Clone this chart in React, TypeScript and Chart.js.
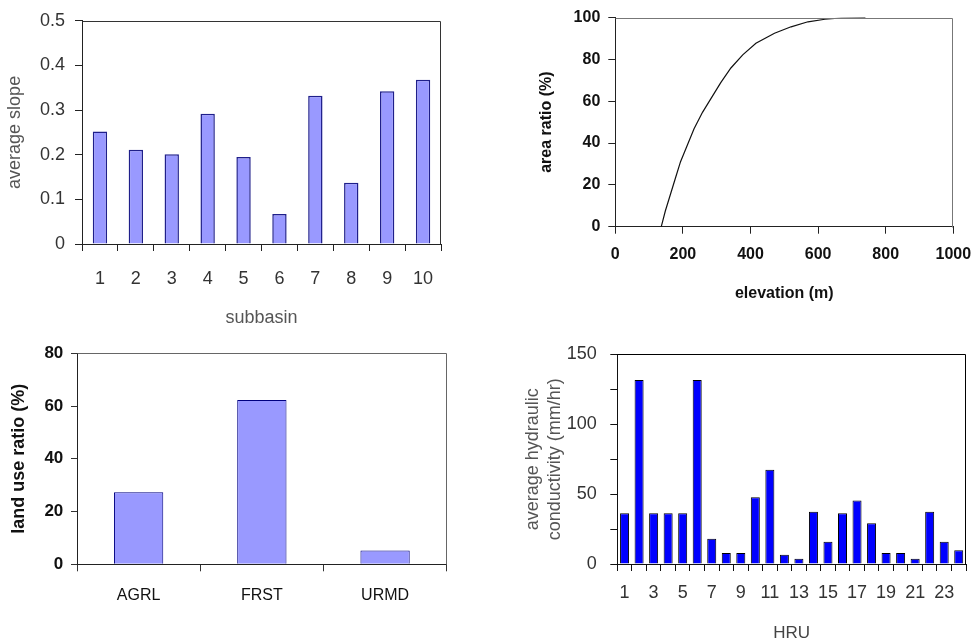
import React, { useEffect, useRef } from "react";
import { Chart, registerables } from "chart.js";

Chart.register(...registerables);

// ---------- DATA ----------
const SUBBASINS = ["1", "2", "3", "4", "5", "6", "7", "8", "9", "10"];
const AVG_SLOPE = [0.252, 0.211, 0.201, 0.292, 0.195, 0.067, 0.332, 0.137, 0.342, 0.368];

const ELEVATION = [136, 148, 163, 178, 193, 213, 233, 258, 282, 312, 342, 377, 416, 471, 520, 570, 620, 669, 740];
const AREA_RATIO = [0, 7.5, 15.4, 23.3, 31.1, 39, 46.8, 54.7, 61, 68.9, 75.9, 82.2, 87.7, 92.5, 95.6, 98, 99.2, 99.8, 100];

const LANDUSE = ["AGRL", "FRST", "URMD"];
const LANDUSE_RATIO = [27.3, 62.3, 5.2];

const HRUS = ["1", "2", "3", "4", "5", "6", "7", "8", "9", "10", "11", "12", "13", "14", "15", "16", "17", "18", "19", "20", "21", "22", "23", "24"];
const HYD_COND = [36.3, 131.7, 36.3, 36.3, 36.3, 131.7, 18, 7.8, 7.8, 47.7, 67.4, 6.6, 3.7, 37.4, 16, 36.3, 45.4, 29.2, 7.8, 7.8, 3.7, 37.4, 16, 9.8];

// ---------- STYLE ----------
const SANS = "'Liberation Sans', Arial, sans-serif";

const framePlugin = {
  id: "frame",
  afterDraw(chart: any, _args: any, opts: any) {
    const { ctx, chartArea } = chart;
    const l = Math.round(chartArea.left) + 0.5;
    const t = Math.round(chartArea.top) + 0.5;
    const r = Math.round(chartArea.right) - 0.5;
    const b = Math.round(chartArea.bottom) + 0.5;
    ctx.save();
    ctx.strokeStyle = opts.color || "#444";
    ctx.lineWidth = opts.width || 1;
    ctx.beginPath();
    ctx.moveTo(l, t);
    ctx.lineTo(r, t);
    ctx.lineTo(r, b);
    ctx.stroke();
    ctx.restore();
  },
};

function axisGrid(tickLength: number, color: string) {
  return { drawOnChartArea: false, drawTicks: true, tickLength, tickColor: color, color };
}

function makeSlope(): any {
  return {
    type: "bar",
    data: {
      labels: SUBBASINS,
      datasets: [{
        data: AVG_SLOPE,
        backgroundColor: "#9999FF",
        borderColor: "#1f1f8a",
        borderWidth: 1.5,
        barPercentage: 0.4,
        categoryPercentage: 1,
      }],
    },
    options: {
      animation: false,
      responsive: false,
      layout: { padding: { top: 16, right: 45, left: 0, bottom: 0 } },
      plugins: { legend: { display: false }, tooltip: { enabled: false }, frame: { color: "#333", width: 1 } },
      scales: {
        x: {
          afterFit: (s: any) => { s.height = 86; },
          grid: axisGrid(7, "#222"),
          border: { display: true, color: "#222", width: 1 },
          ticks: { font: { family: SANS, size: 18 }, color: "#333", padding: 17 },
          title: { display: true, text: "subbasin", font: { family: SANS, size: 18 }, color: "#555", padding: { top: 0, bottom: 1 } },
        },
        y: {
          min: 0, max: 0.5,
          afterFit: (s: any) => { s.width = 82; },
          grid: axisGrid(7, "#222"),
          border: { display: true, color: "#222", width: 1 },
          ticks: {
            stepSize: 0.1, font: { family: SANS, size: 18 }, color: "#333", padding: 10,
            callback: (v: any) => (Number(v) === 0 ? "0" : Number(v).toFixed(1)),
          },
          title: { display: true, text: "average slope", font: { family: SANS, size: 18 }, color: "#555", padding: { top: 4, bottom: 0 } },
        },
      },
    },
    plugins: [framePlugin],
  };
}

function makeElevation(): any {
  const pts = ELEVATION.map((x, i) => ({ x, y: AREA_RATIO[i] }));
  return {
    type: "line",
    data: {
      datasets: [{
        data: pts,
        borderColor: "#111",
        borderWidth: 1.2,
        pointRadius: 0,
        tension: 0,
        fill: false,
      }],
    },
    options: {
      animation: false,
      responsive: false,
      layout: { padding: { top: 14, right: 18.7, left: 0, bottom: 0 } },
      plugins: { legend: { display: false }, tooltip: { enabled: false }, frame: { color: "#777", width: 1 } },
      scales: {
        x: {
          type: "linear", min: 0, max: 1000,
          afterFit: (s: any) => { s.height = 103.3; s.paddingRight = 0; s.paddingLeft = 0; },
          grid: axisGrid(7, "#222"),
          border: { display: true, color: "#222", width: 1 },
          ticks: {
            stepSize: 200, font: { family: SANS, size: 16, weight: "bold" }, color: "#111", padding: 11,
            callback: (v: any) => String(v),
          },
          title: { display: true, text: "elevation (m)", font: { family: SANS, size: 16, weight: "bold" }, color: "#111", padding: { top: 0, bottom: 27 } },
        },
        y: {
          type: "linear", min: 0, max: 100,
          afterFit: (s: any) => { s.width = 129.3; },
          grid: axisGrid(7, "#222"),
          border: { display: true, color: "#222", width: 1 },
          ticks: { stepSize: 20, font: { family: SANS, size: 16, weight: "bold" }, color: "#111", padding: 8 },
          title: { display: true, text: "area ratio (%)", font: { family: SANS, size: 16, weight: "bold" }, color: "#111", padding: { top: 51, bottom: 0 } },
        },
      },
    },
    plugins: [framePlugin],
  };
}

function makeLanduse(): any {
  return {
    type: "bar",
    data: {
      labels: LANDUSE,
      datasets: [{
        data: LANDUSE_RATIO,
        backgroundColor: "#9999FF",
        borderColor: "#000080",
        borderWidth: 1,
        barPercentage: 0.4,
        categoryPercentage: 1,
      }],
    },
    options: {
      animation: false,
      responsive: false,
      layout: { padding: { top: 23.3, right: 39.3, left: 0, bottom: 0 } },
      plugins: { legend: { display: false }, tooltip: { enabled: false }, frame: { color: "#666", width: 1 } },
      scales: {
        x: {
          afterFit: (s: any) => { s.height = 77.7; },
          grid: axisGrid(7, "#333"),
          border: { display: true, color: "#222", width: 1 },
          ticks: { font: { family: SANS, size: 16 }, color: "#111", padding: 15 },
        },
        y: {
          min: 0, max: 80,
          afterFit: (s: any) => { s.width = 77; },
          grid: axisGrid(6, "#333"),
          border: { display: true, color: "#222", width: 1 },
          ticks: { stepSize: 20, font: { family: SANS, size: 17, weight: "bold" }, color: "#111", padding: 7.7 },
          title: { display: true, text: "land use ratio (%)", font: { family: SANS, size: 18, weight: "bold" }, color: "#111", padding: { top: 8, bottom: 0 } },
        },
      },
    },
    plugins: [framePlugin],
  };
}

function makeHydraulic(): any {
  return {
    type: "bar",
    data: {
      labels: HRUS,
      datasets: [{
        data: HYD_COND,
        backgroundColor: "#0000FF",
        borderColor: "#000",
        borderWidth: 1,
        barPercentage: 0.62,
        categoryPercentage: 1,
      }],
    },
    options: {
      animation: false,
      responsive: false,
      layout: { padding: { top: 15, right: 6, left: 0, bottom: 0 } },
      plugins: { legend: { display: false }, tooltip: { enabled: false }, frame: { color: "#000", width: 1 } },
      scales: {
        x: {
          afterFit: (s: any) => { s.height = 78; },
          grid: axisGrid(7, "#111"),
          border: { display: true, color: "#111", width: 1 },
          ticks: {
            autoSkip: false, maxRotation: 0, font: { family: SANS, size: 18 }, color: "#333", padding: 11,
            callback: function (this: any, _v: any, i: number) { return i % 2 === 0 ? HRUS[i] : ""; },
          },
          title: { display: true, text: "HRU", font: { family: SANS, size: 17, lineHeight: 1 }, color: "#444", padding: { top: 0, bottom: 0 } },
        },
        y: {
          min: 0, max: 150,
          afterFit: (s: any) => { s.width = 131.3; },
          grid: axisGrid(7, "#111"),
          border: { display: true, color: "#111", width: 1 },
          ticks: {
            stepSize: 25, font: { family: SANS, size: 18 }, color: "#333", padding: 13.6,
            callback: (v: any) => (Number(v) % 50 === 0 ? String(v) : ""),
          },
          title: {
            display: true, text: ["average hydraulic", "conductivity (mm/hr)"],
            font: { family: SANS, size: 18, lineHeight: 1.25 }, color: "#555", padding: { top: 35.7, bottom: 0 },
          },
        },
      },
    },
    plugins: [framePlugin],
  };
}

function Panel({ make, left, top, width, height }: { make: () => any; left: number; top: number; width: number; height: number }) {
  const ref = useRef<HTMLCanvasElement | null>(null);
  useEffect(() => {
    if (!ref.current) return;
    const chart = new Chart(ref.current, make());
    return () => chart.destroy();
  }, [make]);
  return (
    <canvas
      ref={ref}
      width={width}
      height={height}
      style={{ position: "absolute", left, top, width, height }}
    />
  );
}

export default function App() {
  return (
    <div style={{ position: "absolute", left: 0, top: 0, width: 972, height: 642, background: "#fff" }}>
      <Panel make={makeSlope} left={0} top={0} width={486} height={330} />
      <Panel make={makeElevation} left={486} top={0} width={486} height={330} />
      <Panel make={makeLanduse} left={0} top={330} width={486} height={312} />
      <Panel make={makeHydraulic} left={486} top={330} width={486} height={312} />
    </div>
  );
}
